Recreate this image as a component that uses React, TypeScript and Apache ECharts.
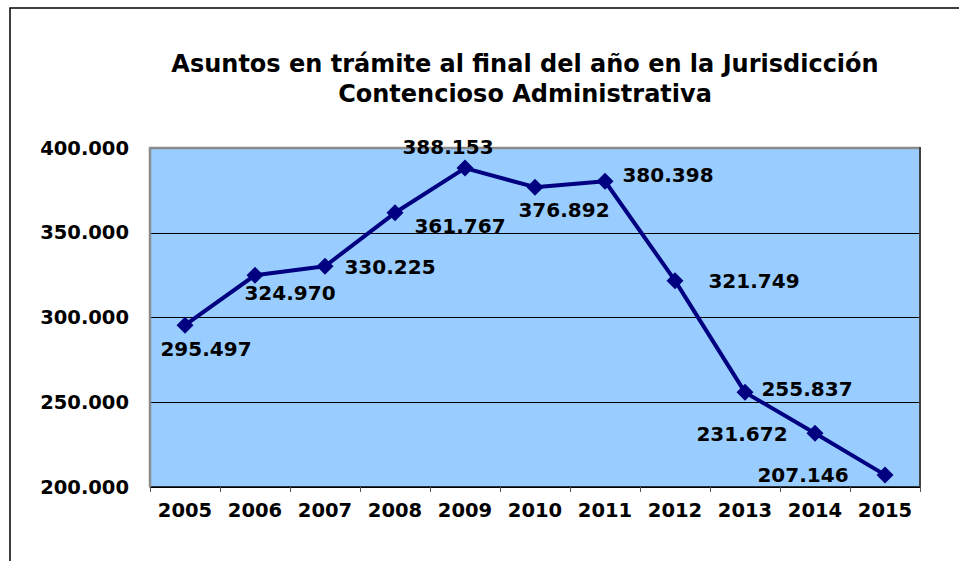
import React, { useEffect, useRef } from "react";
import * as echarts from "echarts";

const titleText = "Asuntos en trámite al final del año en la Jurisdicción\nContencioso Administrativa";
const years = ["2005", "2006", "2007", "2008", "2009", "2010", "2011", "2012", "2013", "2014", "2015"];
const pending = [295497, 324970, 330225, 361767, 388153, 376892, 380398, 321749, 255837, 231672, 207146];
const labelOffsets: [number, number][] = [
  [21, 24], [35, 18], [65, 1], [65, 13], [-17, -21], [29, 23], [63, -6], [79, 0], [62, -3], [-73, 1], [-82, 0],
];

const FONT = "'DejaVu Sans', Verdana, sans-serif";
const fmt = (v: number) => {
  const s = Math.round(v).toString();
  return s.replace(/\B(?=(\d{3})+(?!\d))/g, ".");
};

export default function App() {
  const ref = useRef<HTMLDivElement>(null);
  useEffect(() => {
    if (!ref.current) return;
    const chart = echarts.init(ref.current, null, { renderer: "svg" });
    const gl = 150, gt = 148, gr = 920, gb = 487;
    chart.setOption({
      animation: false,
      backgroundColor: "#ffffff",
      title: {
        text: titleText,
        left: 525,
        top: 49,
        textAlign: "center",
        padding: 0,
        textStyle: { fontFamily: FONT, fontWeight: "bold", fontSize: 24, lineHeight: 30, color: "#000" },
      },
      grid: {
        left: gl,
        top: gt,
        right: 959 - gr,
        bottom: 561 - gb,
        show: true,
        backgroundColor: "#99CCFF",
        borderWidth: 0,
      },
      xAxis: {
        type: "category",
        data: years,
        boundaryGap: true,
        axisLine: { lineStyle: { color: "#000", width: 1.5 } },
        axisTick: { show: true, length: 5, lineStyle: { color: "#555", width: 1 } },
        axisLabel: { interval: 0, fontFamily: FONT, fontWeight: "bold", fontSize: 19.5, color: "#000", margin: 13 },
      },
      yAxis: {
        type: "value",
        min: 200000,
        max: 400000,
        interval: 50000,
        axisLine: { show: false },
        axisTick: { show: false },
        splitLine: { lineStyle: { color: "#000", width: 1 } },
        axisLabel: {
          fontFamily: FONT,
          fontWeight: "bold",
          fontSize: 19.5,
          color: "#000",
          margin: 21,
          formatter: (v: number) => fmt(v),
        },
      },
      graphic: [
        {
          type: "rect",
          z: 0,
          shape: { x: 10, y: 8, width: 1100, height: 700 },
          style: { fill: "none", stroke: "#000", lineWidth: 1.5 },
        },
        {
          type: "polyline",
          z: 1,
          shape: { points: [[gl, gb], [gl, gt], [gr, gt]] },
          style: { fill: "none", stroke: "#8c8c8c", lineWidth: 2.5 },
        },
        {
          type: "line",
          z: 1,
          shape: { x1: gr, y1: gt - 1, x2: gr, y2: gb },
          style: { stroke: "#404040", lineWidth: 2 },
        },
      ],
      series: [
        {
          type: "line",
          data: pending.map((v, i) => ({
            value: v,
            label: { offset: labelOffsets[i] },
          })),
          z: 5,
          lineStyle: { color: "#000080", width: 4 },
          itemStyle: { color: "#000080" },
          symbol: "diamond",
          symbolSize: 17,
          label: {
            show: true,
            position: "inside",
            fontFamily: FONT,
            fontWeight: "bold",
            fontSize: 20,
            color: "#000",
            formatter: (p: any) => fmt(p.value),
          },
        },
      ],
    });
    return () => chart.dispose();
  }, []);
  return (
    <div
      ref={ref}
      style={{ position: "fixed", left: 0, top: 0, width: 959, height: 561 }}
    />
  );
}
